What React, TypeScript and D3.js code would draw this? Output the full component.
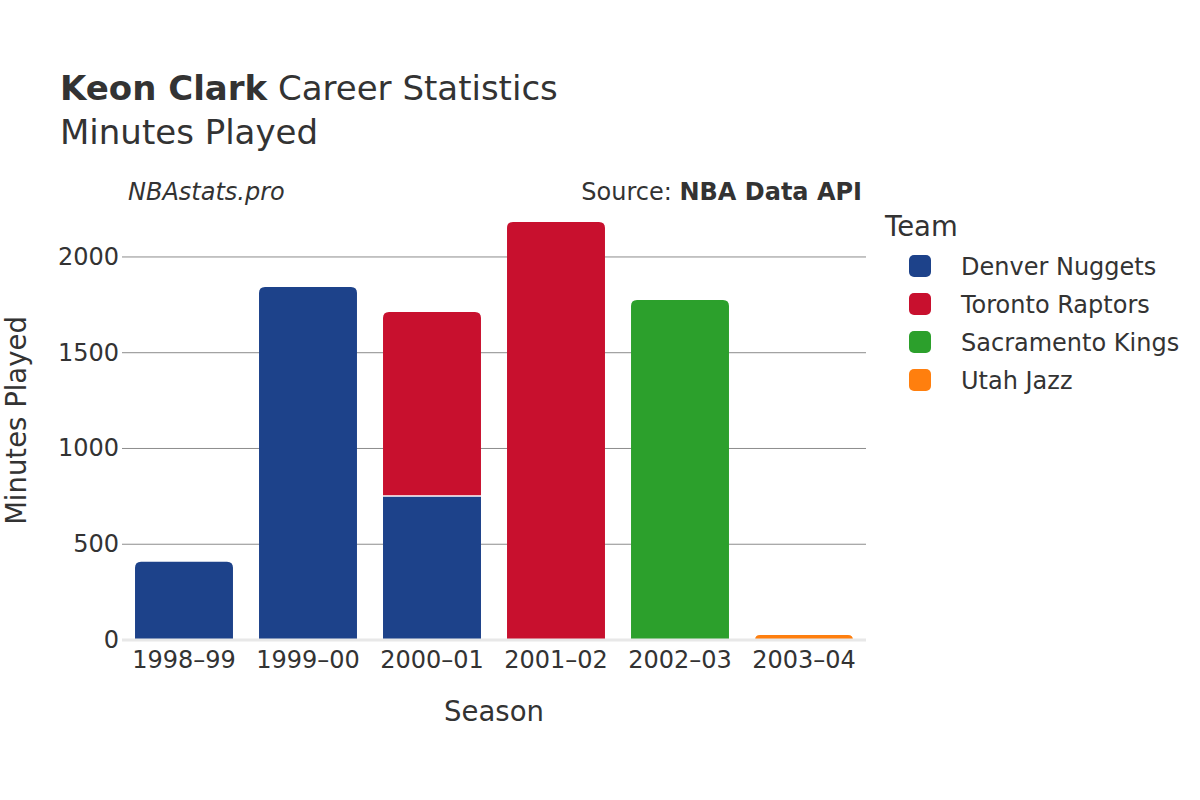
import React from "react";
import * as d3 from "d3";

const seasons = ["1998–99", "1999–00", "2000–01", "2001–02", "2002–03", "2003–04"];
const teams = ["Denver Nuggets", "Toronto Raptors", "Sacramento Kings", "Utah Jazz"];
const teamColors = ["#1d428a", "#c8102e", "#2ca02c", "#ff7f0e"];
const denverMinutes = [409, 1843, 752, 0, 0, 0];
const torontoMinutes = [0, 0, 961, 2183, 0, 0];
const sacramentoMinutes = [0, 0, 0, 0, 1775, 0];
const utahMinutes = [0, 0, 0, 0, 0, 26];
const yTicks = [0, 500, 1000, 1500, 2000];

const W = 1200, H = 800;
const left = 122, right = 866, top = 201, bottom = 640;
const FONT = "'DejaVu Sans', sans-serif";
const TXT = "#333";

function roundedTop(x: number, y: number, w: number, h: number, r: number) {
  const rr = Math.min(r, h, w / 2);
  return `M${x},${y + h}V${y + rr}Q${x},${y} ${x + rr},${y}H${x + w - rr}Q${x + w},${y} ${x + w},${y + rr}V${y + h}Z`;
}

export default function App() {
  const series = [denverMinutes, torontoMinutes, sacramentoMinutes, utahMinutes];
  const rows = seasons.map((s, i) => {
    const o: any = { season: s };
    teams.forEach((t, j) => (o[t] = series[j][i]));
    return o;
  });
  const stacked = d3.stack<any>().keys(teams)(rows);
  const totals = rows.map((r) => d3.sum(teams, (t) => r[t]));
  const x = d3.scaleBand().domain(seasons).range([left, right]).paddingInner(0.21).paddingOuter(0.105);
  const y = d3.scaleLinear().domain([0, d3.max(totals)! * 1.05]).range([bottom, top]);

  const bars: any[] = [];
  stacked.forEach((layer, j) => {
    layer.forEach((d, i) => {
      const v = d[1] - d[0];
      if (v <= 0) return;
      const isTop = Math.abs(d[1] - totals[i]) < 1e-6;
      const x0 = x(seasons[i])!;
      const w = x.bandwidth();
      const y0 = y(d[1]);
      const h = y(d[0]) - y(d[1]);
      bars.push(
        isTop ? (
          <path key={`${j}-${i}`} d={roundedTop(x0, y0, w, h, 6)} fill={teamColors[j]} />
        ) : (
          <rect key={`${j}-${i}`} x={x0} y={y0} width={w} height={h} fill={teamColors[j]} />
        )
      );
      if (d[0] > 0) {
        bars.push(<line key={`s${j}-${i}`} x1={x0} x2={x0 + w} y1={y(d[0])} y2={y(d[0])} stroke="#fff" strokeWidth={1.5} />);
      }
    });
  });

  return (
    <svg width={W} height={H} style={{ display: "block", position: "absolute", left: 0, top: 0, overflow: "visible" }} fontFamily={FONT}>
      <rect width={W} height={H} fill="#fff" />
      <text x={60} y={100} fontSize={34} fill={TXT}>
        <tspan fontWeight="bold">Keon Clark</tspan> Career Statistics
      </text>
      <text x={60} y={144} fontSize={34} fill={TXT}>Minutes Played</text>
      <text x={128} y={200} fontSize={24} fill={TXT} fontStyle="italic">NBAstats.pro</text>
      <text x={862} y={200} fontSize={24} fill={TXT} textAnchor="end">
        Source: <tspan fontWeight="bold">NBA Data API</tspan>
      </text>

      {yTicks.filter((t) => t > 0).map((t) => (
        <line key={t} x1={left} x2={right} y1={y(t)} y2={y(t)} stroke="#8c8c8c" strokeWidth={1} />
      ))}
      {bars}
      <line x1={left} x2={right} y1={y(0)} y2={y(0)} stroke="#e8e8e8" strokeWidth={3} />

      {yTicks.map((t) => (
        <text key={t} x={119} y={y(t) + 8} fontSize={24} fill={TXT} textAnchor="end">{t}</text>
      ))}
      {seasons.map((s) => (
        <text key={s} x={x(s)! + x.bandwidth() / 2} y={668} fontSize={24} fill={TXT} textAnchor="middle">{s}</text>
      ))}
      <text x={(left + right) / 2} y={721} fontSize={27.5} fill={TXT} textAnchor="middle">Season</text>
      <text transform={`translate(26,${(top + bottom) / 2}) rotate(-90)`} fontSize={27.5} fill={TXT} textAnchor="middle">Minutes Played</text>

      <text x={885} y={236} fontSize={27.5} fill={TXT}>Team</text>
      {teams.map((t, j) => (
        <g key={t} transform={`translate(0,${266 + j * 38})`}>
          <rect x={909} y={-11} width={22} height={22} rx={5} fill={teamColors[j]} />
          <text x={961} y={9} fontSize={24} fill={TXT}>{t}</text>
        </g>
      ))}
    </svg>
  );
}
